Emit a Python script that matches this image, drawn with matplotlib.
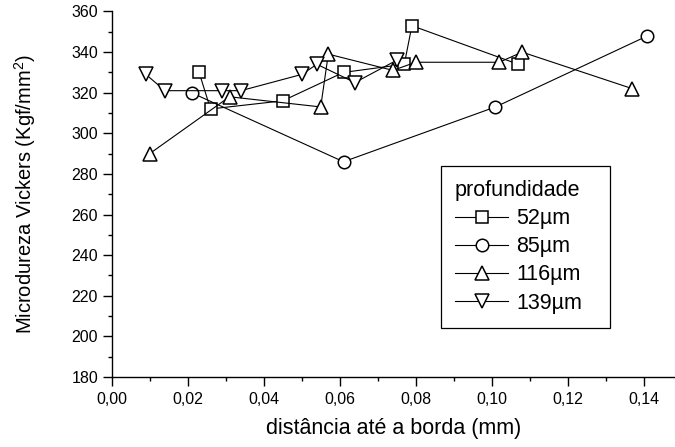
import matplotlib
matplotlib.use("Agg")
import matplotlib.pyplot as plt
from matplotlib.ticker import MultipleLocator, FuncFormatter

plt.rcParams['font.family'] = ['Liberation Sans', 'DejaVu Sans']
plt.rcParams['mathtext.fontset'] = 'custom'
plt.rcParams['mathtext.rm'] = 'Liberation Sans'
plt.rcParams['mathtext.it'] = 'Liberation Sans:italic'

# data
sq_x = [0.023, 0.026, 0.045, 0.061, 0.077, 0.079, 0.107]
sq_y = [330, 312, 316, 330, 334, 353, 334]
ci_x = [0.021, 0.061, 0.101, 0.141]
ci_y = [320, 286, 313, 348]
tu_x = [0.010, 0.031, 0.055, 0.057, 0.074, 0.080, 0.102, 0.108, 0.137]
tu_y = [290, 318, 313, 339, 331, 335, 335, 340, 322]
td_x = [0.009, 0.014, 0.029, 0.034, 0.050, 0.054, 0.064, 0.075]
td_y = [329, 321, 321, 321, 329, 334, 325, 336]
labels = ['52µm', '85µm', '116µm', '139µm']

fig = plt.figure(figsize=(6.75, 4.47), dpi=100)
ax = fig.add_axes([0.1655, 0.1566, 0.8345, 0.8177])

common = dict(color='black', lw=0.8, mfc='white', mec='black', mew=1.1)
ax.plot(sq_x, sq_y, marker='s', ms=8.5, label=labels[0], **common)
ax.plot(ci_x, ci_y, marker='o', ms=9, label=labels[1], **common)
ax.plot(tu_x, tu_y, marker='^', ms=10, label=labels[2], **common)
ax.plot(td_x, td_y, marker='v', ms=10, label=labels[3], **common)

ax.set_xlim(0, 0.14824)
ax.set_ylim(180, 360)
ax.xaxis.set_major_locator(MultipleLocator(0.02))
ax.xaxis.set_minor_locator(MultipleLocator(0.01))
ax.yaxis.set_major_locator(MultipleLocator(20))
ax.yaxis.set_minor_locator(MultipleLocator(10))
ax.xaxis.set_major_formatter(FuncFormatter(lambda v, p: f"{v:.2f}".replace('.', ',')))
ax.yaxis.set_major_formatter(FuncFormatter(lambda v, p: f"{v:.0f}"))

for s in ['top', 'right']:
    ax.spines[s].set_visible(False)
for s in ['left', 'bottom']:
    ax.spines[s].set_linewidth(1.0)
ax.tick_params(which='major', direction='out', length=6.3, width=1.0, labelsize=11.5)
ax.tick_params(axis='x', which='major', pad=4.5)
ax.tick_params(axis='y', which='major', pad=3.5)
ax.tick_params(which='minor', direction='out', length=3, width=1.0)

ax.set_xlabel('distância até a borda (mm)', fontsize=15.5, labelpad=8)
ax.set_ylabel('Microdureza Vickers (Kgf/mm$^2$)', fontsize=14.5, labelpad=24)

leg = ax.legend(title='profundidade', loc='upper left',
                bbox_to_anchor=(0.584, 0.577, 0.30, 0.0), mode='expand',
                borderaxespad=0, fontsize=15.5, title_fontsize=15.5, fancybox=False,
                edgecolor='black', framealpha=1, handlelength=2.5, handletextpad=0.35,
                labelspacing=0.33, borderpad=0.65, alignment='left')
leg.get_frame().set_linewidth(0.9)

fig.savefig('out.png', dpi=100)
